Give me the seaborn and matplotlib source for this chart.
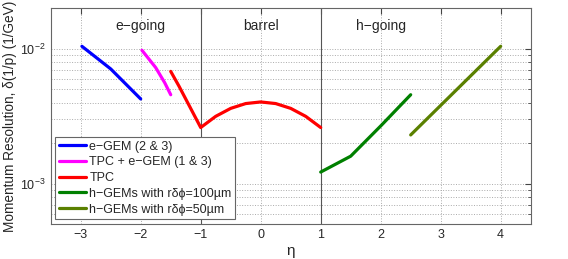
import numpy as np
import pandas as pd
import matplotlib
matplotlib.use("Agg")
import matplotlib.pyplot as plt
import seaborn as sns

# values
egem_eta = [-2.98, -2.5, -2.0]
egem_res = [0.01045, 0.0071, 0.00425]

tpc_egem_eta = [-1.98, -1.75, -1.6, -1.5]
tpc_egem_res = [0.00977, 0.00726, 0.00561, 0.00457]

tpc_eta = [-1.5, -1.36, -1.0, -0.75, -0.5, -0.25, 0.0, 0.25, 0.5, 0.75, 1.0]
tpc_res = [0.00681, 0.00527, 0.00261, 0.00316, 0.00362, 0.00393, 0.00404,
           0.00393, 0.00362, 0.00316, 0.00261]

hgem100_eta = [1.0, 1.5, 2.0, 2.5]
hgem100_res = [0.00122, 0.0016, 0.00268, 0.00457]

hgem50_eta = [2.5, 4.0]
hgem50_res = [0.0023, 0.01045]

labels = ["e\u2212GEM (2 & 3)", "TPC + e\u2212GEM (1 & 3)", "TPC",
          "h\u2212GEMs with r\u03b4\u03d5=100\u00b5m",
          "h\u2212GEMs with r\u03b4\u03d5=50\u00b5m"]
colors = ["#0000ff", "#ff00ff", "#ff0000", "#008000", "#5a8000"]

region_names = ["e\u2212going", "barrel", "h\u2212going"]
region_pos = [-2.0, 0.0, 2.0]
xticks = [-3, -2, -1, 0, 1, 2, 3, 4]

sns.set_style("white")
plt.rcParams["font.family"] = ["Liberation Sans", "DejaVu Sans"]
plt.rcParams["axes.unicode_minus"] = True

fig = plt.figure(figsize=(5.68, 2.59), dpi=100)
ax = fig.add_axes([0.0893, 0.134, 0.845, 0.834])

series = [(egem_eta, egem_res), (tpc_egem_eta, tpc_egem_res), (tpc_eta, tpc_res),
          (hgem100_eta, hgem100_res), (hgem50_eta, hgem50_res)]
for (x, y), lab, c in zip(series, labels, colors):
    df = pd.DataFrame({"eta": x, "res": y})
    sns.lineplot(data=df, x="eta", y="res", ax=ax, color=c, lw=2.3,
                 label=lab, sort=False, estimator=None)

ax.set_yscale("log")
ax.set_xlim(-3.5, 4.5)
ax.set_ylim(5e-4, 2e-2)
ax.set_xticks(xticks)
ax.set_xticklabels([f"{t}".replace("-", "\u2212") for t in xticks])

ax.axvline(-1, color="#555555", lw=0.8, zorder=1)
ax.axvline(1, color="#555555", lw=0.8, zorder=1)

for name, pos in zip(region_names, region_pos):
    ax.text(pos, 0.0147, name, ha="center", va="center", fontsize=10)

ax.grid(True, which="major", axis="both", ls=":", color="#aaaaaa", lw=0.7)
ax.grid(True, which="minor", axis="y", ls=":", color="#aaaaaa", lw=0.7)
ax.tick_params(which="both", direction="in", top=True, right=True,
               labelsize=9, color="#444444")
ax.tick_params(which="major", length=4)
ax.tick_params(which="minor", length=2)
for s in ax.spines.values():
    s.set_color("#666666")
    s.set_linewidth(0.8)

ax.set_xlabel("\u03b7", fontsize=11)
ax.set_ylabel("Momentum Resolution, \u03b4(1/p) (1/GeV)", fontsize=9.8)
ax.xaxis.set_label_coords(0.5, -0.09)
ax.yaxis.set_label_coords(-0.07, 0.5)

leg = ax.legend(loc="lower left", bbox_to_anchor=(0.009, 0.023), borderaxespad=0,
                fontsize=9, handlelength=2.2, handletextpad=0.25, labelspacing=0.3,
                fancybox=False, framealpha=1, edgecolor="#666666", borderpad=0.3)
leg.get_frame().set_linewidth(0.8)

fig.savefig("out.png", dpi=100)
